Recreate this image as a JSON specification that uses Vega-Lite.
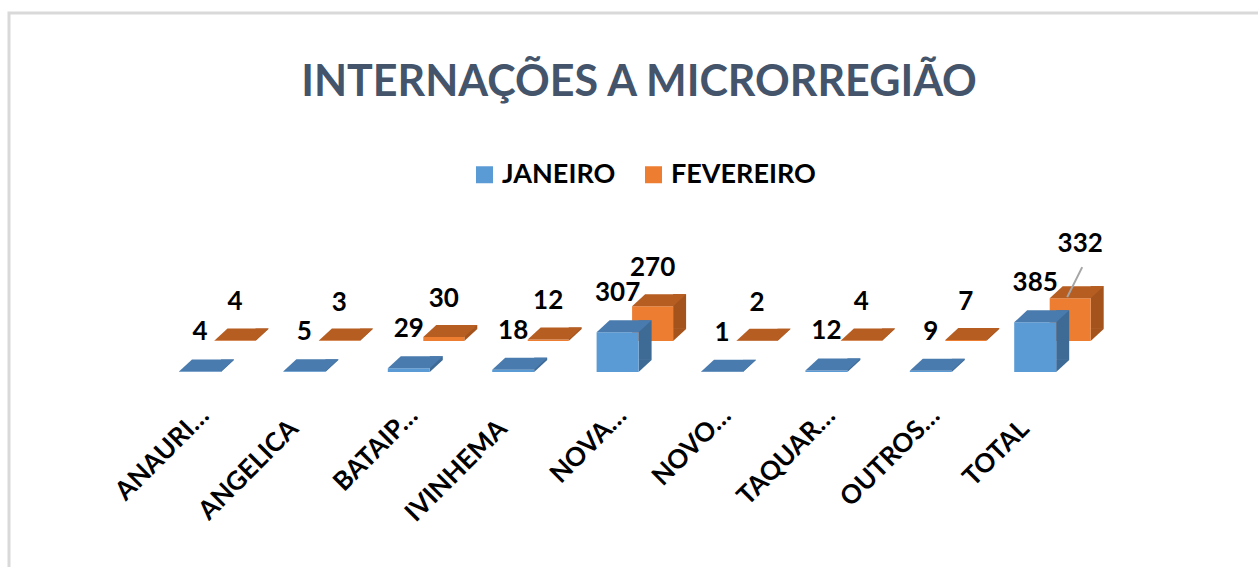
{
  "$schema": "https://vega.github.io/schema/vega-lite/v6.json",
  "width": 1260,
  "height": 560,
  "autosize": {"type": "none"},
  "padding": {"left": 9, "top": 13, "right": 0, "bottom": 0},
  "background": "white",
  "config": {
    "view": {"stroke": "#D9D9D9", "strokeWidth": 3},
    "font": "Lato"
  },
  "title": {
    "text": "INTERNAÇÕES A MICRORREGIÃO",
    "fontSize": 43,
    "font": "Lato",
    "fontWeight": "bold",
    "color": "#44546A",
    "anchor": "middle",
    "orient": "top",
    "baseline": "bottom",
    "offset": -135
  },
  "data": {
    "values": [
      {"cat": "ANAURI…", "mes": "JANEIRO", "v": 4},
      {"cat": "ANGELICA", "mes": "JANEIRO", "v": 5},
      {"cat": "BATAIP…", "mes": "JANEIRO", "v": 29},
      {"cat": "IVINHEMA", "mes": "JANEIRO", "v": 18},
      {"cat": "NOVA…", "mes": "JANEIRO", "v": 307},
      {"cat": "NOVO…", "mes": "JANEIRO", "v": 1},
      {"cat": "TAQUAR…", "mes": "JANEIRO", "v": 12},
      {"cat": "OUTROS…", "mes": "JANEIRO", "v": 9},
      {"cat": "TOTAL", "mes": "JANEIRO", "v": 385},
      {"cat": "ANAURI…", "mes": "FEVEREIRO", "v": 4},
      {"cat": "ANGELICA", "mes": "FEVEREIRO", "v": 3},
      {"cat": "BATAIP…", "mes": "FEVEREIRO", "v": 30},
      {"cat": "IVINHEMA", "mes": "FEVEREIRO", "v": 12},
      {"cat": "NOVA…", "mes": "FEVEREIRO", "v": 270},
      {"cat": "NOVO…", "mes": "FEVEREIRO", "v": 2},
      {"cat": "TAQUAR…", "mes": "FEVEREIRO", "v": 4},
      {"cat": "OUTROS…", "mes": "FEVEREIRO", "v": 7},
      {"cat": "TOTAL", "mes": "FEVEREIRO", "v": 332}
    ]
  },
  "encoding": {
    "x": {
      "field": "cat",
      "type": "nominal",
      "sort": null,
      "scale": {"paddingInner": 0, "paddingOuter": 0, "range": [156.3, 1095.9]},
      "axis": {
        "title": null,
        "domain": false,
        "ticks": false,
        "labelAngle": -45,
        "labelFont": "Lato",
        "labelFontSize": 26,
        "labelFontWeight": "bold",
        "labelColor": "#000000",
        "labelOffset": {"condition": {"test": "indexof(datum.value, '…') >= 0", "value": -22}, "value": -37},
        "labelPadding": {"condition": {"test": "indexof(datum.value, '…') >= 0", "value": 2}, "value": 15},
        "labelLimit": 0,
        "offset": -173
      }
    },
    "y": {
      "field": "v",
      "type": "quantitative",
      "scale": {"domain": [-1558, 2782], "nice": false, "zero": false},
      "axis": null
    }
  },
  "layer": [
    {
      "transform": [{"filter": "datum.mes === 'FEVEREIRO'"}],
      "mark": {"type": "bar", "width": 13, "xOffset": 44.5, "yOffset": -43, "y2Offset": -43, "color": "#A5531C"},
      "encoding": {"y2": {"datum": 0}}
    },
    {
      "transform": [{"filter": "datum.mes === 'FEVEREIRO'"}],
      "mark": {"type": "point", "filled": true, "opacity": 1, "size": 1681, "shape": "M 1 0 L 1.634 -0.585 L 1 -0.585 Z", "color": "#A5531C", "xOffset": 17.5, "yOffset": -31},
      "encoding": {"y": {"datum": 0}}
    },
    {
      "transform": [{"filter": "datum.mes === 'FEVEREIRO'"}],
      "mark": {"type": "bar", "width": 41, "xOffset": 17.5, "yOffset": -31, "y2Offset": -31},
      "encoding": {
        "y2": {"datum": 0},
        "color": {
          "field": "mes",
          "type": "nominal",
          "scale": {"domain": ["JANEIRO", "FEVEREIRO"], "range": ["#5B9BD5", "#ED7D31"]},
          "legend": {
            "title": null,
            "orient": "none",
            "direction": "horizontal",
            "legendX": 462,
            "legendY": 148,
            "symbolType": "square",
            "symbolSize": 289,
            "symbolStrokeWidth": 0,
            "labelFont": "Lato",
            "labelFontSize": 27,
            "labelFontWeight": "bold",
            "labelColor": "#000000",
            "labelOffset": 4,
            "columnPadding": 24
          }
        }
      }
    },
    {
      "transform": [{"filter": "datum.mes === 'FEVEREIRO'"}],
      "mark": {"type": "point", "filled": true, "opacity": 1, "size": 1681, "shape": "M -1 0 L 1 0 L 1.634 -0.585 L -0.366 -0.585 Z", "color": "#B65D21", "xOffset": 17.5, "yOffset": -31}
    },
    {
      "transform": [{"filter": "datum.mes === 'JANEIRO'"}],
      "mark": {"type": "bar", "width": 13, "xOffset": 10, "yOffset": -12, "y2Offset": -12, "color": "#3E6A96"},
      "encoding": {"y2": {"datum": 0}}
    },
    {
      "transform": [{"filter": "datum.mes === 'JANEIRO'"}],
      "mark": {"type": "point", "filled": true, "opacity": 1, "size": 1764, "shape": "M 1 0 L 1.619 -0.571 L 1 -0.571 Z", "color": "#3E6A96", "xOffset": -17.5},
      "encoding": {"y": {"datum": 0}}
    },
    {
      "transform": [{"filter": "datum.mes === 'JANEIRO'"}],
      "mark": {"type": "bar", "width": 42, "xOffset": -17.5},
      "encoding": {
        "y2": {"datum": 0},
        "color": {
          "field": "mes",
          "type": "nominal",
          "scale": {"domain": ["JANEIRO", "FEVEREIRO"], "range": ["#5B9BD5", "#ED7D31"]}
        }
      }
    },
    {
      "transform": [{"filter": "datum.mes === 'JANEIRO'"}],
      "mark": {"type": "point", "filled": true, "opacity": 1, "size": 1764, "shape": "M -1 0 L 1 0 L 1.619 -0.571 L -0.381 -0.571 Z", "color": "#4A7BAE", "xOffset": -17.5}
    },
    {
      "transform": [{"filter": "datum.mes === 'FEVEREIRO' && datum.cat === 'TOTAL'"}],
      "mark": {"type": "rule", "color": "#A6A6A6", "strokeWidth": 2, "xOffset": 29.5, "x2Offset": 14.5, "yOffset": -62, "y2Offset": -32},
      "encoding": {"x2": {"field": "cat"}, "y2": {"field": "v"}}
    },
    {
      "transform": [{"filter": "datum.mes === 'FEVEREIRO' && datum.cat !== 'TOTAL'"}],
      "mark": {"type": "text", "font": "Lato", "fontSize": 26, "fontWeight": "bold", "color": "#000000", "baseline": "middle", "align": "center", "xOffset": 17.5, "yOffset": -31, "dy": -38},
      "encoding": {"text": {"field": "v", "type": "quantitative"}}
    },
    {
      "transform": [{"filter": "datum.mes === 'FEVEREIRO' && datum.cat === 'TOTAL'"}],
      "mark": {"type": "text", "font": "Lato", "fontSize": 26, "fontWeight": "bold", "color": "#000000", "baseline": "middle", "align": "center", "xOffset": 27.5, "yOffset": -31, "dy": -54},
      "encoding": {"text": {"field": "v", "type": "quantitative"}}
    },
    {
      "transform": [{"filter": "datum.mes === 'JANEIRO'"}],
      "mark": {"type": "text", "font": "Lato", "fontSize": 26, "fontWeight": "bold", "color": "#000000", "baseline": "middle", "align": "center", "xOffset": -17.5, "dy": -39},
      "encoding": {"text": {"field": "v", "type": "quantitative"}}
    }
  ]
}
